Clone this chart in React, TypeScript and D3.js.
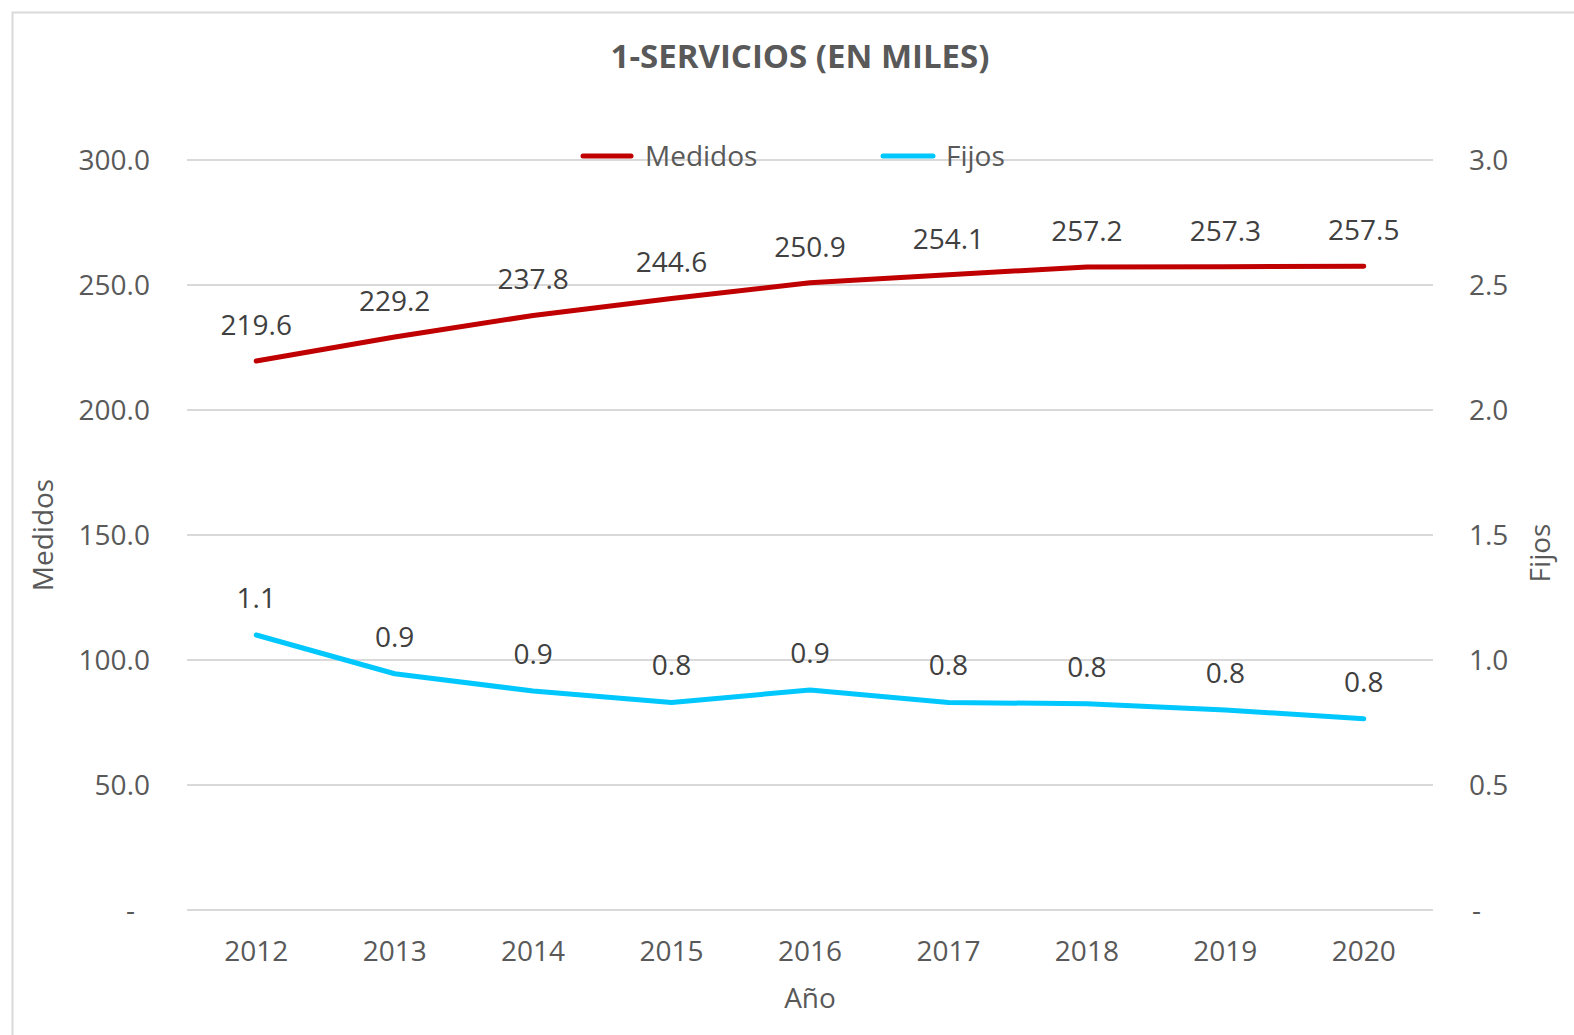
import React from 'react';
import * as d3 from 'd3';

const years = ['2012', '2013', '2014', '2015', '2016', '2017', '2018', '2019', '2020'];
const medidos = [219.6, 229.2, 237.8, 244.6, 250.9, 254.1, 257.2, 257.3, 257.5];
const fijos = [1.1, 0.945, 0.876, 0.83, 0.88, 0.83, 0.825, 0.8, 0.765];
const leftTicks = [0, 50, 100, 150, 200, 250, 300];
const rightTicks = [0, 0.5, 1, 1.5, 2, 2.5, 3];

const W = 1574;
const H = 1035;
const FONT = '"Open Sans", sans-serif';
const RED = '#C00000';
const CYAN = '#00C8FF';

function App() {
  const x = d3.scaleBand().domain(years).range([187, 1433]);
  const yL = d3.scaleLinear().domain([0, 300]).range([910, 160]);
  const yR = d3.scaleLinear().domain([0, 3]).range([910, 160]);
  const cx = (d: string) => (x(d) ?? 0) + x.bandwidth() / 2;

  const lineL = d3.line<number>().x((_, i) => cx(years[i])).y((d) => yL(d));
  const lineR = d3.line<number>().x((_, i) => cx(years[i])).y((d) => yR(d));

  return (
    <div style={{ position: 'absolute', left: 0, top: 0 }}>
      <svg width={W} height={H} style={{ display: 'block', fontFamily: FONT }}>
        <rect x={0} y={0} width={W} height={H} fill="#fff" />
        <rect x={12.5} y={12.5} width={W + 50} height={H + 50} fill="none" stroke="#d9d9d9" strokeWidth={2} />

        <text x={800} y={68} textAnchor="middle" fontSize={33} fontWeight="bold" fill="#595959">
          1-SERVICIOS (EN MILES)
        </text>

        {/* grid */}
        {leftTicks.map((t) => (
          <line key={t} x1={187} x2={1433} y1={yL(t)} y2={yL(t)} stroke="#d9d9d9" strokeWidth={2} />
        ))}

        {/* left axis labels */}
        {leftTicks.map((t) => (
          <text key={t} x={t === 0 ? 135 : 150} y={yL(t)} dy="0.35em" textAnchor="end" fontSize={28} fill="#595959">
            {t === 0 ? '-' : d3.format('.1f')(t)}
          </text>
        ))}
        {/* right axis labels */}
        {rightTicks.map((t) => (
          <text key={t} x={t === 0 ? 1472 : 1469} y={yR(t)} dy="0.35em" textAnchor="start" fontSize={28} fill="#595959">
            {t === 0 ? '-' : d3.format('.1f')(t)}
          </text>
        ))}

        {/* x labels */}
        {years.map((d) => (
          <text key={d} x={cx(d)} y={951} dy="0.35em" textAnchor="middle" fontSize={28} fill="#595959">
            {d}
          </text>
        ))}

        {/* axis titles */}
        <text transform="translate(43,535) rotate(-90)" dy="0.35em" textAnchor="middle" fontSize={28} fill="#595959">
          Medidos
        </text>
        <text transform="translate(1540,553) rotate(-90)" dy="0.35em" textAnchor="middle" fontSize={28} fill="#595959">
          Fijos
        </text>
        <text x={810} y={998} dy="0.35em" textAnchor="middle" fontSize={28} fill="#595959">
          Año
        </text>

        {/* lines */}
        <path d={lineL(medidos) ?? ''} fill="none" stroke={RED} strokeWidth={5} strokeLinejoin="round" strokeLinecap="round" />
        <path d={lineR(fijos) ?? ''} fill="none" stroke={CYAN} strokeWidth={5} strokeLinejoin="round" strokeLinecap="round" />

        {/* data labels */}
        {medidos.map((v, i) => (
          <text key={'m' + i} x={cx(years[i])} y={yL(v) - 36} dy="0.35em" textAnchor="middle" fontSize={28} fill="#404040">
            {d3.format('.1f')(v)}
          </text>
        ))}
        {fijos.map((v, i) => (
          <text key={'f' + i} x={cx(years[i])} y={yR(v) - 37} dy="0.35em" textAnchor="middle" fontSize={28} fill="#404040">
            {d3.format('.1f')(v)}
          </text>
        ))}

        {/* legend */}
        <line x1={583} x2={631} y1={156} y2={156} stroke={RED} strokeWidth={5} strokeLinecap="round" />
        <text x={645} y={156} dy="0.35em" fontSize={28} fill="#595959">Medidos</text>
        <line x1={883} x2={933} y1={156} y2={156} stroke={CYAN} strokeWidth={5} strokeLinecap="round" />
        <text x={946} y={156} dy="0.35em" fontSize={28} fill="#595959">Fijos</text>
      </svg>
    </div>
  );
}

export default App;
